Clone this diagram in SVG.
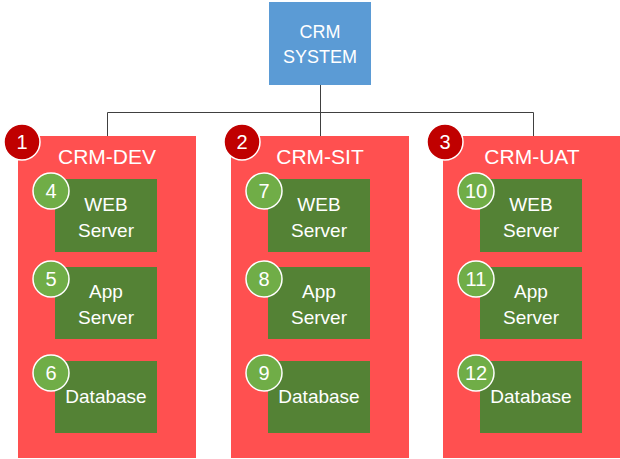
<svg xmlns="http://www.w3.org/2000/svg" width="620" height="459" viewBox="0 0 620 459">
<style>
text{font-family:"Liberation Sans",Arial,sans-serif;fill:#fff;text-anchor:middle}
.env{fill:#FF5050}
.srv{fill:#548235}
.b1{fill:#C00000;stroke:#fff;stroke-width:1.5}
.b2{fill:#70AD47;stroke:#fff;stroke-width:1.5}
.t{font-size:21px}
.s{font-size:19px}
.n{font-size:20px}
.c{fill:none;stroke:#404040;stroke-width:1}
</style>
<rect width="620" height="459" fill="#fff"/>
<g id="connectors">
<path class="c" d="M320.5 85V112.5M107.5 136V112.5H533.5V136M320.5 112.5V136"/>
</g>
<g id="crm-system">
<rect x="269" y="2" width="102" height="83" fill="#5B9BD5"/>
<text x="320" y="38" style="font-size:18px">CRM</text>
<text x="320" y="63" style="font-size:18px">SYSTEM</text>
</g>
<g id="crm-dev">
<rect class="env" x="18" y="136" width="178" height="322"/>
<text class="t" x="107" y="164">CRM-DEV</text>
<circle class="b1" cx="22" cy="142" r="18"/>
<text class="n" x="22" y="149">1</text>
</g>
<g id="crm-sit">
<rect class="env" x="231" y="136" width="178" height="322"/>
<text class="t" x="320" y="164">CRM-SIT</text>
<circle class="b1" cx="242" cy="142" r="18"/>
<text class="n" x="242" y="149">2</text>
</g>
<g id="crm-uat">
<rect class="env" x="443" y="136" width="178" height="322"/>
<text class="t" x="532" y="164">CRM-UAT</text>
<circle class="b1" cx="445" cy="142" r="18"/>
<text class="n" x="445" y="149">3</text>
</g>
<g id="dev-web">
<rect class="srv" x="55" y="179" width="102" height="73"/>
<text class="s" x="106" y="211">WEB</text>
<text class="s" x="106" y="237">Server</text>
<circle class="b2" cx="51" cy="191" r="18"/>
<text class="n" x="51" y="198">4</text>
</g>
<g id="dev-app">
<rect class="srv" x="55" y="267" width="102" height="72"/>
<text class="s" x="106" y="298">App</text>
<text class="s" x="106" y="324">Server</text>
<circle class="b2" cx="51" cy="279" r="18"/>
<text class="n" x="51" y="286">5</text>
</g>
<g id="dev-db">
<rect class="srv" x="55" y="361" width="102" height="72"/>
<text class="s" x="106" y="403">Database</text>
<circle class="b2" cx="51" cy="373" r="18"/>
<text class="n" x="51" y="380">6</text>
</g>
<g id="sit-web">
<rect class="srv" x="268" y="179" width="102" height="73"/>
<text class="s" x="319" y="211">WEB</text>
<text class="s" x="319" y="237">Server</text>
<circle class="b2" cx="264" cy="191" r="18"/>
<text class="n" x="264" y="198">7</text>
</g>
<g id="sit-app">
<rect class="srv" x="268" y="267" width="102" height="72"/>
<text class="s" x="319" y="298">App</text>
<text class="s" x="319" y="324">Server</text>
<circle class="b2" cx="264" cy="279" r="18"/>
<text class="n" x="264" y="286">8</text>
</g>
<g id="sit-db">
<rect class="srv" x="268" y="361" width="102" height="72"/>
<text class="s" x="319" y="403">Database</text>
<circle class="b2" cx="264" cy="373" r="18"/>
<text class="n" x="264" y="380">9</text>
</g>
<g id="uat-web">
<rect class="srv" x="480" y="179" width="102" height="73"/>
<text class="s" x="531" y="211">WEB</text>
<text class="s" x="531" y="237">Server</text>
<circle class="b2" cx="476" cy="191" r="18"/>
<text class="n" x="476" y="198">10</text>
</g>
<g id="uat-app">
<rect class="srv" x="480" y="267" width="102" height="72"/>
<text class="s" x="531" y="298">App</text>
<text class="s" x="531" y="324">Server</text>
<circle class="b2" cx="476" cy="279" r="18"/>
<text class="n" x="476" y="286">11</text>
</g>
<g id="uat-db">
<rect class="srv" x="480" y="361" width="102" height="72"/>
<text class="s" x="531" y="403">Database</text>
<circle class="b2" cx="476" cy="373" r="18"/>
<text class="n" x="476" y="380">12</text>
</g>
</svg>
